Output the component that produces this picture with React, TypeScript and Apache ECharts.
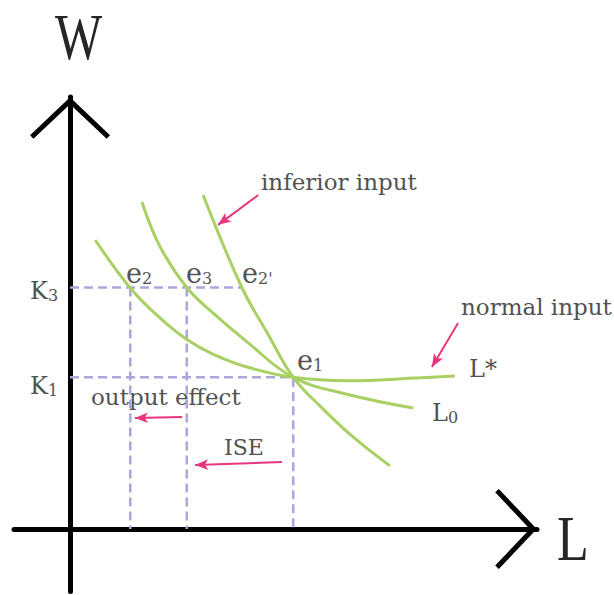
import { useEffect, useRef } from 'react';
import * as echarts from 'echarts';

// Axis extents (data units: L on x, W on y)
const X_MIN = -1.2;
const X_MAX = 10;
const Y_MIN = -1.45;
const Y_MAX = 10;

// Isoquant curves
const normalX = [0.54, 1.29, 1.93, 2.51, 3.06, 3.79, 4.78, 5.93, 7.5, 8.24];
const normalY = [6.69, 5.58, 4.88, 4.38, 4.05, 3.75, 3.51, 3.43, 3.5, 3.54];
const l0X = [1.54, 1.93, 2.5, 3.06, 3.79, 4.78, 5.93, 7.35];
const l0Y = [7.57, 6.53, 5.59, 5.0, 4.33, 3.51, 3.12, 2.8];
const inferiorX = [2.85, 3.68, 4.24, 4.78, 5.35, 6.06, 6.85];
const inferiorY = [7.73, 5.59, 4.51, 3.51, 2.85, 2.13, 1.46];

// Key levels
const K3 = 5.59;
const K1 = 3.51;
const e1X = 4.78;
const e2X = 1.29;
const e3X = 2.5;
const e2pX = 3.68;

// Pink annotation arrows (start -> tip)
const arrowStartX = [4.03, 8.31, 2.4, 4.54];
const arrowStartY = [7.73, 4.77, 2.59, 1.55];
const arrowEndX = [3.17, 7.75, 1.39, 2.68];
const arrowEndY = [7.04, 3.75, 2.57, 1.48];

const GREEN = '#a8d062';
const DASH = '#aaa6de';
const PINK = '#e8357f';
const TEXT = '#525252';
const DARK = '#262626';

const CHEVRON = 'path://M0,38 L40,0 L80,38 L76.6,41.6 L40,7 L3.4,41.6 Z';

const zip = (xs: number[], ys: number[]) => xs.map((x, i) => [x, ys[i]]);

const subLabel = (main: string, sub: string, x: number, y: number, mainSize: number, subSize: number) => {
  const L = Math.round(mainSize * 1.2);
  const l = L - 0.692 * (mainSize - subSize);
  return {
    type: 'text',
    x,
    y,
    style: {
      text: `{m|${main}}{s|${sub}}`,
      align: 'left',
      verticalAlign: 'middle',
      rich: {
        m: { fontFamily: 'DejaVu Serif', fontSize: mainSize, lineHeight: L, verticalAlign: 'bottom', fill: TEXT, color: TEXT },
        s: { fontFamily: 'DejaVu Serif', fontSize: subSize, lineHeight: l, verticalAlign: 'bottom', fill: TEXT, color: TEXT },
      },
    },
  };
};

const plain = (text: string, x: number, y: number, size: number) => ({
  type: 'text',
  x,
  y,
  style: {
    text,
    fontFamily: 'DejaVu Serif',
    fontSize: size,
    fill: TEXT,
    align: 'left',
    verticalAlign: 'middle',
  },
});

export default function App() {
  const ref = useRef<HTMLDivElement>(null);
  useEffect(() => {
    if (!ref.current) return;
    const chart = echarts.init(ref.current, undefined, { renderer: 'svg' });
    const axisCommon = {
      type: 'value',
      axisLabel: { show: false },
      axisTick: { show: false },
      splitLine: { show: false },
    };
    const axisLine = {
      show: true,
      onZero: true,
      symbol: ['none', CHEVRON],
      symbolSize: [80, 42],
      symbolOffset: [0, -21],
      lineStyle: { color: '#000', width: 5 },
    };
    const dashStyle = { color: DASH, width: 2.5, type: [9, 5] };
    const curveStyle = { color: GREEN, width: 3 };
    const curve = (name: string, xs: number[], ys: number[]) => ({
      type: 'line',
      name,
      data: zip(xs, ys),
      smooth: 0.4,
      symbol: 'none',
      lineStyle: curveStyle,
      z: 3,
      silent: true,
    });
    chart.setOption({
      animation: false,
      backgroundColor: '#ffffff',
      grid: { left: 14, right: 77, top: 97, bottom: 3.4, containLabel: false, outerBoundsMode: 'none' },
      xAxis: { ...axisCommon, min: X_MIN, max: X_MAX, axisLine },
      yAxis: { ...axisCommon, min: Y_MIN, max: Y_MAX, axisLine },
      series: [
        {
          type: 'line',
          data: [[0, K3], [e2pX, K3]],
          symbol: 'none',
          lineStyle: dashStyle,
          z: 2,
          silent: true,
          markLine: {
            silent: true,
            symbol: ['none', 'arrow'],
            symbolSize: [8, 13],
            label: { show: false },
            lineStyle: { color: PINK, width: 2, type: 'solid' },
            data: arrowStartX.map((x, i) => [
              { coord: [x, arrowStartY[i]] },
              { coord: [arrowEndX[i], arrowEndY[i]] },
            ]),
          },
        },
        { type: 'line', data: [[0, K1], [e1X, K1], [e1X, 0]], symbol: 'none', lineStyle: dashStyle, z: 2, silent: true },
        { type: 'line', data: [[e2X, K3], [e2X, 0]], symbol: 'none', lineStyle: dashStyle, z: 2, silent: true },
        { type: 'line', data: [[e3X, K3], [e3X, 0]], symbol: 'none', lineStyle: dashStyle, z: 2, silent: true },
        curve('L*', normalX, normalY),
        curve('L0', l0X, l0Y),
        curve('inferior', inferiorX, inferiorY),
      ],
      graphic: [
        {
          type: 'text', x: 78.5, y: 37, scaleY: 1.3,
          style: { text: 'W', fontFamily: 'Liberation Serif', fontSize: 50, fill: DARK, align: 'center', verticalAlign: 'middle' },
        },
        {
          type: 'text', x: 557, y: 539, scaleY: 1.23,
          style: { text: 'L', fontFamily: 'Liberation Serif', fontSize: 52, fill: DARK, align: 'left', verticalAlign: 'middle' },
        },
        subLabel('K', '3', 30, 288.7, 24, 16),
        subLabel('K', '1', 30, 383.7, 24, 16),
        subLabel('e', '2', 126, 270.7, 27, 16),
        subLabel('e', '3', 186, 270.7, 27, 16),
        subLabel('e', "2'", 242, 270.7, 27, 16),
        subLabel('e', '1', 297, 357.7, 27, 16),
        subLabel('L', '0', 432, 410.7, 24, 16),
        plain('L*', 469, 368.7, 24),
        plain('inferior input', 261, 182, 23),
        plain('normal input', 461, 307, 23),
        plain('output effect', 91, 397, 23),
        plain('ISE', 224, 447, 22),
      ],
    });
    return () => chart.dispose();
  }, []);
  return <div ref={ref} style={{ position: 'absolute', left: 0, top: 0, width: 614, height: 595 }} />;
}
